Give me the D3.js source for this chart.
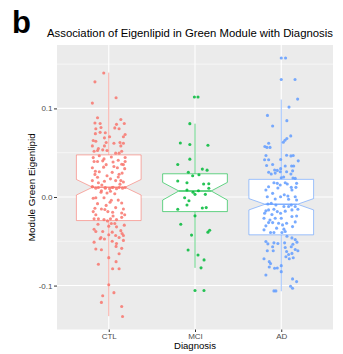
<!DOCTYPE html>
<html><head><meta charset="utf-8">
<script src="https://cdn.jsdelivr.net/npm/d3@7"></script>
<style>html,body{margin:0;padding:0;background:#fff;}svg{display:block;font-family:"Liberation Sans",Arial,sans-serif;}</style>
</head><body>
<svg id="chart" width="343" height="354"></svg>
<script>
const categories = ["CTL", "MCI", "AD"];
const colors = ["#F8766D", "#00BA38", "#619CFF"];
const yTicks = [-0.1, 0.0, 0.1];
const yTickLabels = ["-0.1", "0.0", "0.1"];
const yMinor = [-0.15, -0.05, 0.05, 0.15];

// box statistics: [whiskerLow, q1, median, q3, whiskerHigh, notchLow, notchHigh]
const boxCTL = [-0.1345, -0.0266, 0.0110, 0.0475, 0.1404, 0.0022, 0.0198];
const boxMCI = [-0.0800, -0.0165, 0.0068, 0.0262, 0.0828, -0.0035, 0.0165];
const boxAD  = [-0.1064, -0.0427, -0.0082, 0.0199, 0.1100, -0.0146, -0.0018];

// jittered points: [horizontal jitter (category units), value]
const ptsCTL = [
[-0.058,0.140],[-0.16,0.130],[0.085,0.112],[-0.19,0.106],[-0.13,0.0895],[-0.16,0.0835],[-0.10,0.083],[0.09,0.082],[0.18,0.083],
[-0.15,0.077],[-0.09,0.0785],[0.07,0.078],[0.12,0.077],[-0.155,0.0715],[-0.10,0.073],[0.19,0.0705],[0.17,0.068],[0.01,0.068],
[-0.05,0.0668],[-0.18,0.0637],[-0.15,0.063],[-0.03,0.0615],[0.06,0.0607],[0.17,0.0607],[-0.19,0.0577],[-0.05,0.0577],[0.14,0.0577],
[-0.12,0.0547],[-0.17,0.0517],[-0.13,0.0525],[-0.07,0.0532],[-0.02,0.0525],[0.08,0.0495],[0.12,0.0495],[0.15,0.0517],
[0.19,0.0446],[-0.055,0.043],[0.03,0.0452],[-0.17,0.040],[-0.13,0.040],[-0.07,0.0408],[0.19,0.040],[0.15,0.037],[0.17,0.0366],
[-0.06,0.0337],[-0.19,0.033],[0.10,0.033],[0.185,0.032],[-0.155,0.029],[0.04,0.0278],[0.155,0.027],[0.12,0.0256],[-0.02,0.024],
[-0.13,0.0223],[-0.19,0.0185],[-0.05,0.0178],[0.08,0.0185],[0.14,0.0185],[0.17,0.017],[-0.12,0.016],[-0.19,0.0115],[-0.15,0.010],
[-0.04,0.010],[0.01,0.0094],[0.05,0.011],[0.09,0.0094],[0.16,0.010],[-0.085,0.007],[0.02,0.0064],
[-0.19,0.0116],[-0.12,0.0107],[-0.04,0.0107],[0.04,0.0107],[0.12,0.0107],[0.19,0.0107],[-0.09,0.0053],[-0.02,0.0045],[0.07,0.0037],
[-0.18,-0.0015],[-0.15,-0.0008],[-0.055,-0.0008],[0.03,-0.0037],[0.015,-0.006],[0.15,-0.0067],[0.08,-0.012],[-0.16,-0.0127],
[-0.085,-0.0135],[-0.045,-0.0142],[0.17,-0.0135],[-0.18,-0.0165],[-0.01,-0.0165],[0.045,-0.0172],[0.15,-0.018],[0.185,-0.020],
[-0.15,-0.020],[0.15,-0.023],[-0.17,-0.0247],[-0.12,-0.0247],[-0.055,-0.0255],[0.02,-0.0247],[0.09,-0.0255],[-0.015,-0.027],
[-0.125,-0.0307],[0.03,-0.030],[0.07,-0.030],[0.0,-0.0329],[0.09,-0.0337],[0.14,-0.038],[-0.15,-0.039],[-0.07,-0.039],[0.04,-0.0397],
[0.155,-0.0412],[0.0,-0.0427],[0.08,-0.0435],[-0.09,-0.0457],[0.17,-0.0435],[0.12,-0.0457],[-0.10,-0.0472],[-0.17,-0.051],
[0.04,-0.050],[0.09,-0.0525],[0.17,-0.049],[0.085,-0.0558],[-0.15,-0.0588],[-0.085,-0.0595],[0.15,-0.058],[0.12,-0.064],
[0.0,-0.0685],[0.085,-0.073],[-0.12,-0.076],[0.045,-0.081],[0.12,-0.081],[0.0,-0.099],[0.06,-0.108],[-0.07,-0.1115],
[-0.085,-0.119],[0.15,-0.1236],[0.16,-0.135],
[-0.11,0.0465],[0.11,0.0415],[-0.03,0.0365],[0.06,0.0345],[-0.16,0.0255],[0.02,0.0205],[-0.08,0.0135],[0.13,0.0145],
[-0.13,-0.0075],[0.11,-0.0035],[-0.03,-0.0095],[0.05,-0.0215],[-0.17,-0.0365],[0.18,-0.0318],[-0.05,-0.0475],[0.13,0.0615],
[-0.04,0.0725],[0.14,0.0875],[-0.18,0.0445],[0.05,0.0395],[-0.11,0.0285],[0.11,0.0225]
];
const ptsMCI = [
[-0.007,0.1129],[0.035,0.1129],[-0.06,0.0828],[-0.17,0.061],[-0.06,0.0593],[0.15,0.0585],[-0.06,0.0427],[-0.20,0.0367],
[-0.077,0.028],[0.085,0.0315],[0.14,0.0303],[-0.027,0.024],[0.046,0.0251],[-0.20,0.018],[-0.093,0.016],[0.10,0.0146],
[0.16,0.015],[0.16,0.0098],[-0.093,0.0079],[-0.023,0.0053],[0.0,0.003],[0.04,0.007],[0.12,0.003],[-0.12,-0.0008],
[-0.07,-0.0042],[-0.093,-0.009],[-0.20,-0.0138],[0.085,-0.0124],[0.13,-0.012],[0.0,-0.0213],[-0.165,-0.0307],[-0.04,-0.043],
[0.15,-0.0397],[0.17,-0.0375],[-0.08,-0.0599],[0.035,-0.0655],[0.105,-0.071],[0.07,-0.080],[0.0,-0.1056],[0.104,-0.1056]
];
const ptsAD = [
[0.0,0.157],[0.05,0.157],[0.0,0.1326],[0.16,0.1326],[0.19,0.1105],[0.09,0.1015],[-0.16,0.0921],[0.065,0.0862],[-0.10,0.0802],
[0.11,0.069],[0.065,0.066],[0.043,0.064],[0.024,0.0618],[-0.146,0.0607],[-0.19,0.057],[-0.166,0.056],[-0.13,0.056],
[0.062,0.0472],[0.112,0.0464],[0.139,0.0468],[-0.177,0.0468],[-0.146,0.042],[-0.193,0.042],[-0.007,0.0424],[0.197,0.0408],
[-0.10,0.0367],[-0.17,0.0356],[0.046,0.035],[0.12,0.035],[0.144,0.035],[-0.007,0.032],[-0.077,0.0305],[-0.046,0.030],
[-0.146,0.028],[-0.116,0.026],[-0.07,0.027],[-0.012,0.0285],[0.062,0.0285],[0.132,0.0295],[0.112,0.026],[0.162,0.021],
[0.028,0.0225],[0.0,0.0218],[0.136,0.0214],
[-0.085,0.0161],[-0.046,0.0154],[-0.012,0.0135],[0.046,0.0161],[0.07,0.0146],[0.178,0.0154],[-0.039,0.0101],[0.116,0.0109],
[0.17,0.0109],[-0.147,0.0116],[-0.178,0.0079],[-0.10,0.0041],[0.035,0.0026],[0.077,0.0011],[0.124,0.0079],[0.162,0.0003],
[-0.008,0.0003],[-0.162,0.0003],[-0.07,-0.0022],[0.085,-0.0026],[0.178,-0.0034],
[-0.178,-0.0157],[-0.147,-0.0146],[-0.193,-0.0183],[-0.085,-0.0139],[-0.046,-0.0165],[-0.108,-0.0198],[-0.008,-0.0183],
[0.046,-0.016],[0.124,-0.0146],[0.162,-0.0108],[0.193,-0.0139],[0.031,-0.0108],[0.085,-0.0108],[0.116,-0.009],[-0.062,-0.009],
[-0.155,-0.0079],[-0.116,-0.0071],[-0.20,-0.024],[-0.131,-0.0259],[-0.07,-0.024],[0.0,-0.024],[0.178,-0.0214],[0.124,-0.0221],
[0.062,-0.0296],[0.015,-0.0315],[-0.031,-0.0296],[-0.10,-0.0289],[-0.147,-0.0289],[-0.178,-0.0326],[-0.054,-0.0352],
[0.031,-0.0363],[0.131,-0.0334],[0.162,-0.0281],[-0.20,-0.0371],[-0.124,-0.0401],[-0.085,-0.0401],[0.008,-0.0401],[0.046,-0.039],
[0.066,-0.0444],[0.124,-0.0462],[0.162,-0.0481],[-0.178,-0.0503],[-0.155,-0.0529],[-0.085,-0.0518],[-0.039,-0.0525],
[0.039,-0.0518],[0.135,-0.0533],[0.182,-0.051],[-0.10,-0.0562],[0.046,-0.057],[0.116,-0.0562],[0.162,-0.0593],[-0.162,-0.0607],
[-0.093,-0.0607],[0.062,-0.0615],[0.085,-0.0649],[0.124,-0.0637],[0.054,-0.0675],[0.093,-0.0697],[0.139,-0.0686],[0.193,-0.0607],
[-0.20,-0.0697],[-0.139,-0.073],[-0.124,-0.0752],[-0.077,-0.0805],[-0.046,-0.0801],[0.0,-0.0775],[-0.139,-0.079],[-0.178,-0.088],
[0.0,-0.0843],[0.131,-0.0925],[0.178,-0.0955],[0.108,-0.1008],[0.131,-0.103],[-0.085,-0.106],[-0.062,-0.106]
];

const boxes = [boxCTL, boxMCI, boxAD];
const points = [ptsCTL, ptsMCI, ptsAD];

const svg = d3.select("#chart");
const panel = {left: 57, right: 333, top: 45, bottom: 329.5};

const allVals = points.flat().map(d => d[1]).concat(boxes.flatMap(b => [b[0], b[4]]));
const lo = d3.min(allVals), hi = d3.max(allVals), pad = (hi - lo) * 0.05;
const y = d3.scaleLinear().domain([lo - pad, hi + pad]).range([panel.bottom, panel.top]);
const x = d3.scalePoint().domain(categories).range([panel.left, panel.right]).padding(0.6);
const step = x.step();

svg.append("rect").attr("x", panel.left).attr("y", panel.top)
  .attr("width", panel.right - panel.left).attr("height", panel.bottom - panel.top).attr("fill", "#EBEBEB");

const g = svg.append("g");
g.selectAll(".minor").data(yMinor.filter(v => y(v) > panel.top && y(v) < panel.bottom)).enter().append("line")
  .attr("x1", panel.left).attr("x2", panel.right).attr("y1", d => y(d)).attr("y2", d => y(d))
  .attr("stroke", "#fff").attr("stroke-width", 0.55);
g.selectAll(".major").data(yTicks).enter().append("line")
  .attr("x1", panel.left).attr("x2", panel.right).attr("y1", d => y(d)).attr("y2", d => y(d))
  .attr("stroke", "#fff").attr("stroke-width", 1.1);
g.selectAll(".vmajor").data(categories).enter().append("line")
  .attr("y1", panel.top).attr("y2", panel.bottom).attr("x1", d => x(d)).attr("x2", d => x(d))
  .attr("stroke", "#fff").attr("stroke-width", 1.1);

const bw = step * 0.75, nw = bw * 0.5;
categories.forEach((c, i) => {
  const b = boxes[i], cx = x(c), col = colors[i];
  const bg = svg.append("g").attr("stroke", col).attr("stroke-opacity", 0.6).attr("stroke-width", 1);
  bg.append("line").attr("x1", cx).attr("x2", cx).attr("y1", y(b[4])).attr("y2", y(b[3]));
  bg.append("line").attr("x1", cx).attr("x2", cx).attr("y1", y(b[1])).attr("y2", y(b[0]));
  const L = cx - bw / 2, R = cx + bw / 2, nL = cx - nw / 2, nR = cx + nw / 2;
  const path = [[L, y(b[3])], [R, y(b[3])], [R, y(b[6])], [nR, y(b[2])], [R, y(b[5])], [R, y(b[1])],
    [L, y(b[1])], [L, y(b[5])], [nL, y(b[2])], [L, y(b[6])]];
  bg.append("path").attr("d", d3.line()(path) + "Z").attr("fill", "#fff");
  bg.append("line").attr("x1", nL).attr("x2", nR).attr("y1", y(b[2])).attr("y2", y(b[2])).attr("stroke-width", 1.6).attr("stroke-opacity", 0.8);
});

categories.forEach((c, i) => {
  svg.append("g").selectAll("circle").data(points[i]).enter().append("circle")
    .attr("cx", d => x(c) + d[0] * step).attr("cy", d => y(d[1])).attr("r", 1.55)
    .attr("fill", colors[i]).attr("fill-opacity", 0.85);
});

const yAxis = d3.axisLeft(y).tickValues(yTicks).tickFormat((d, i) => yTickLabels[i]).tickSize(3).tickPadding(1.5);
const ya = svg.append("g").attr("transform", `translate(${panel.left},0)`).call(yAxis);
const xAxis = d3.axisBottom(x).tickSize(2.5).tickPadding(1);
const xa = svg.append("g").attr("transform", `translate(0,${panel.bottom})`).call(xAxis);
[ya, xa].forEach(a => {
  a.select(".domain").remove();
  a.selectAll(".tick line").attr("stroke", "#333333");
  a.selectAll(".tick text").attr("fill", "#4D4D4D").style("font-size", "8px").style("font-family", "Liberation Sans, Arial, sans-serif");
});

function fitText(sel, base, width) {
  const w = sel.node().getComputedTextLength();
  sel.style("font-size", (base * width / w) + "px");
}

svg.append("text").attr("x", 12).attr("y", 33).text("b")
  .style("font-size", "31px").style("font-weight", "bold").attr("fill", "#000");
const title = svg.append("text").attr("x", 47).attr("y", 37)
  .text("Association of Eigenlipid in Green Module with Diagnosis")
  .style("font-size", "11px").attr("fill", "#000");
fitText(title, 11, 286);

const xl = svg.append("text").attr("x", (panel.left + panel.right) / 2).attr("y", 349).attr("text-anchor", "middle")
  .text("Diagnosis").style("font-size", "10px").attr("fill", "#000");
fitText(xl, 10, 42);
const yl = svg.append("text").attr("transform", `translate(35,${(panel.top + panel.bottom) / 2}) rotate(-90)`)
  .attr("text-anchor", "middle").text("Module Green Eigenlipid").style("font-size", "10px").attr("fill", "#000");
fitText(yl, 10, 108);
</script>
</body></html>
